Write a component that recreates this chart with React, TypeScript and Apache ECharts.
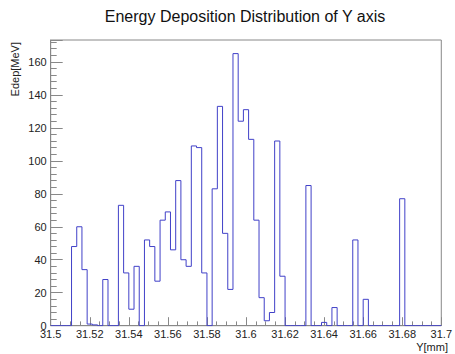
import React, { useEffect, useRef } from "react";
import * as echarts from "echarts";

const titleText = "Energy Deposition Distribution of Y axis";
const xAxisTitle = "Y[mm]";
const yAxisTitle = "Edep[MeV]";

const xLow = 31.5;
const xHigh = 31.7;
const xTickStep = 0.02;
const yTickStep = 20;

// bin contents (75 equal bins from xLow to xHigh)
const counts = [
  0, 0, 0, 0, 48, 60, 34, 1, 0.5, 0,
  28, 0, 0, 73, 32, 10, 36, 0, 52, 48,
  27, 64, 69, 46, 88, 40, 36, 109, 108, 32,
  0, 83, 133, 56, 22, 165, 124, 131, 113, 64,
  17, 3, 8, 112, 30, 0, 0, 0, 0, 85,
  0, 0, 2, 0, 11, 0, 0, 0, 52, 0,
  16, 0, 0, 0, 0, 0, 0, 77, 0, 0,
  0, 0, 0, 0, 0,
];

const FONT = "'Liberation Sans', Arial, Helvetica, sans-serif";

export default function App() {
  const ref = useRef<HTMLDivElement>(null);
  useEffect(() => {
    if (!ref.current) return;
    const chart = echarts.init(ref.current, undefined, { renderer: "svg" });
    const n = counts.length;
    const w = (xHigh - xLow) / n;
    const pts: number[][] = counts.map((c, i) => [xLow + i * w, c]);
    pts.push([xHigh, 0]);
    const yMax = Math.max(...counts) * 1.05;
    const fmt = (v: number) => String(+v.toFixed(4));

    chart.setOption({
      animation: false,
      backgroundColor: "#ffffff",
      title: {
        text: titleText,
        left: 245,
        top: 8,
        textAlign: "center",
        padding: 0,
        textStyle: { fontFamily: FONT, fontSize: 16, fontWeight: "normal", color: "#111" },
      },
      grid: {
        left: 50.7,
        right: 7,
        top: 40,
        bottom: 28.3,
        show: true,
        borderColor: "#888",
        borderWidth: 1,
        containLabel: false,
      },
      xAxis: {
        type: "value",
        min: xLow,
        max: xHigh,
        interval: xTickStep,
        axisLine: { show: true, onZero: false, lineStyle: { color: "#888", width: 1 } },
        axisTick: { show: true, inside: true, length: 8.5, lineStyle: { color: "#888" } },
        minorTick: { show: true, splitNumber: 4, length: 4.3, lineStyle: { color: "#888" } },
        splitLine: { show: false },
        axisLabel: {
          margin: 3,
          fontFamily: FONT,
          fontSize: 11,
          color: "#222",
          formatter: fmt,
        },
      },
      yAxis: {
        type: "value",
        min: 0,
        max: yMax,
        interval: yTickStep,
        axisLine: { show: true, lineStyle: { color: "#888", width: 1 } },
        axisTick: { show: true, inside: true, length: 12, lineStyle: { color: "#888" } },
        minorTick: { show: true, splitNumber: 5, length: 6, lineStyle: { color: "#888" } },
        splitLine: { show: false },
        axisLabel: {
          margin: 4,
          fontFamily: FONT,
          fontSize: 11,
          color: "#222",
          showMaxLabel: false,
          formatter: fmt,
        },
      },
      graphic: [
        {
          type: "text",
          right: 7,
          top: 341,
          style: { text: xAxisTitle, fontFamily: FONT, fontSize: 11, fill: "#222" },
        },
        {
          type: "text",
          x: 9,
          y: 42,
          rotation: Math.PI / 2,
          style: {
            text: yAxisTitle,
            fontFamily: FONT,
            fontSize: 11,
            fill: "#222",
            align: "right",
            verticalAlign: "top",
          },
        },
      ],
      series: [
        {
          type: "line",
          step: "end",
          data: pts,
          symbol: "none",
          lineStyle: { color: "#4040c8", width: 1 },
          clip: true,
        },
      ],
    });
    return () => chart.dispose();
  }, []);
  return (
    <div
      ref={ref}
      style={{ position: "fixed", left: 0, top: 0, width: 455, height: 354, background: "#fff" }}
    />
  );
}
